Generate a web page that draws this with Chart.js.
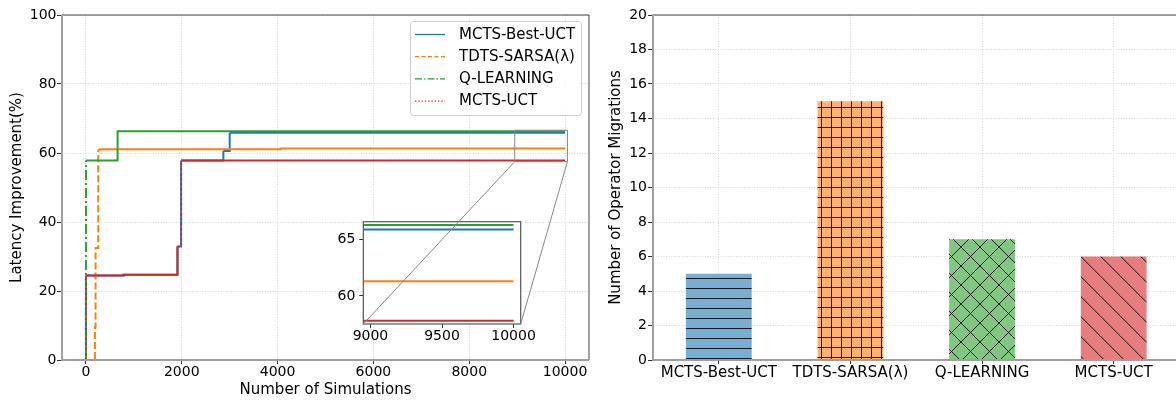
<!DOCTYPE html>
<html>
<head>
<meta charset="utf-8">
<script src="https://cdn.jsdelivr.net/npm/chart.js@4.4.1/dist/chart.umd.min.js"></script>
<style>
html,body{margin:0;padding:0;background:#fff;overflow:hidden;}
body{width:1176px;height:401px;position:relative;}
canvas{position:absolute;top:0;display:block;}
#mainChart,#insetChart{left:0;}
#insetChart{pointer-events:none;}
#barChart{left:600px;}
</style>
</head>
<body>
<canvas id="mainChart" width="600" height="401"></canvas>
<canvas id="insetChart" width="600" height="401"></canvas>
<canvas id="barChart" width="582" height="401"></canvas>
<script>
Chart.defaults.font.family="'DejaVu Sans', sans-serif";
Chart.defaults.color="#000";
Chart.defaults.animation=false;

// series names and colours
const seriesNames=["MCTS-Best-UCT","TDTS-SARSA(λ)","Q-LEARNING","MCTS-UCT"];
const seriesColors=["#1f77b4","#ff7f0e","#2ca02c","#d62728"];

// step points (x = simulations, y = latency improvement %)
const bestUctX=[0,0,785,1910,1986,2868,3000,10000];
const bestUctY=[0,24.5,24.7,32.9,57.8,60.6,65.9,65.9];
const sarsaX=[0,187,200,256,345,4060,10000];
const sarsaY=[0,9.5,32.5,61.0,61.1,61.3,61.3];
const qlearnX=[0,0,660,10000];
const qlearnY=[0,57.8,66.3,66.3];
const uctX=[0,0,785,1910,1986,10000];
const uctY=[0,24.5,24.7,32.9,57.8,57.8];

const xTicks=[0,2000,4000,6000,8000,10000];
const yTicks=[0,20,40,60,80,100];
const insetXTicks=[9000,9500,10000];
const insetYTicks=[60,65];
const insetXRange=[8950,10050];
const insetYRange=[57.5,66.6];

// right chart
const migrations=[5,15,7,6];
const migrationTicks=[0,2,4,6,8,10,12,14,16,18,20];

const lineDashes=[[],[7,3],[10,3,2,3],[2,3]];
const legendDashes=[[],[4,2.5],[7,2,1.5,2],[1.3,2]];

function makePoints(xs,ys){
    return xs.map((x,i)=>({x:x,y:ys[i]}));
}

function lineSets(width){
    const all=[[bestUctX,bestUctY],[sarsaX,sarsaY],[qlearnX,qlearnY],[uctX,uctY]];
    return all.map((d,i)=>({
        label:seriesNames[i],
        data:makePoints(d[0],d[1]),
        borderColor:seriesColors[i],
        borderWidth:width,
        pointRadius:0,
        stepped:true,
        fill:false,
        order:4-i,
        segment:{
            // vertical jumps keep the dash, long flat runs look solid
            borderDash:ctx=>Math.abs(ctx.p1.x-ctx.p0.x)<Math.abs(ctx.p1.y-ctx.p0.y)?lineDashes[i]:undefined
        }
    }));
}

const plain=v=>String(v);
const gridStyle={color:"#cfcfcf",lineWidth:0.8,tickColor:"#333",tickWidth:1};
const dotted={display:false,dash:[1,1.6]};

function spinesPlugin(sides){
    return {
        id:"spines",
        afterDraw(chart){
            const ctx=chart.ctx, a=chart.chartArea;
            ctx.save();
            ctx.setLineDash([]);
            const seg=(x1,y1,x2,y2,c,w)=>{
                ctx.strokeStyle=c;ctx.lineWidth=w;
                ctx.beginPath();ctx.moveTo(x1,y1);ctx.lineTo(x2,y2);ctx.stroke();
            };
            if(sides.top) seg(a.left,a.top,a.right,a.top,sides.top[0],sides.top[1]);
            if(sides.right) seg(a.right,a.top,a.right,a.bottom,sides.right[0],sides.right[1]);
            if(sides.left) seg(a.left,a.top-0.5,a.left,a.bottom+1,sides.left[0],sides.left[1]);
            if(sides.bottom) seg(a.left,a.bottom,a.right,a.bottom,sides.bottom[0],sides.bottom[1]);
            ctx.restore();
        }
    };
}

const legendPlugin={
    id:"boxLegend",
    afterDraw(chart){
        const ctx=chart.ctx;
        ctx.save();
        ctx.beginPath();
        if(ctx.roundRect) ctx.roundRect(410.5,21.5,171,94,3); else ctx.rect(410.5,21.5,171,94);
        ctx.fillStyle="rgba(255,255,255,0.8)";
        ctx.fill();
        ctx.strokeStyle="#d0d0d0";
        ctx.lineWidth=1;
        ctx.stroke();
        ctx.font="15px 'DejaVu Sans'";
        ctx.textBaseline="middle";
        seriesNames.forEach((name,i)=>{
            const y=34.5+i*22.2;
            ctx.strokeStyle=seriesColors[i];
            ctx.lineWidth=1.3;
            ctx.setLineDash(legendDashes[i]);
            ctx.beginPath();ctx.moveTo(415,y);ctx.lineTo(445,y);ctx.stroke();
            ctx.fillStyle="#000";
            ctx.fillText(name,459,y+0.5);
        });
        ctx.restore();
    }
};

const mainChart=new Chart(document.getElementById("mainChart"),{
    type:"line",
    data:{datasets:lineSets(2)},
    options:{
        responsive:false,
        events:[],
        layout:{padding:{top:15,right:11,left:0,bottom:0}},
        plugins:{legend:{display:false},tooltip:{enabled:false}},
        scales:{
            x:{
                type:"linear",min:-500,max:10500,
                afterBuildTicks:s=>{s.ticks=xTicks.map(v=>({value:v}));},
                afterFit:s=>{s.height=41;},
                grid:Object.assign({tickLength:4},gridStyle),
                border:dotted,
                ticks:{font:{size:14},padding:0,maxRotation:0,autoSkip:false,callback:plain},
                title:{display:true,text:"Number of Simulations",font:{size:15},padding:{top:0,bottom:2}}
            },
            y:{
                min:0,max:100,
                afterBuildTicks:s=>{s.ticks=yTicks.map(v=>({value:v}));},
                afterFit:s=>{s.width=62;},
                grid:Object.assign({tickLength:5},gridStyle),
                border:dotted,
                ticks:{font:{size:14},padding:0.5,callback:plain},
                title:{display:true,text:"Latency Improvement(%)",font:{size:15},padding:{top:8.5,bottom:0}}
            }
        }
    },
    plugins:[spinesPlugin({top:["#444",1],right:["#444",1],left:["#a0a0a0",2],bottom:["#a0a0a0",2]}),legendPlugin]
});

const insetPlugin={
    id:"insetExtras",
    beforeDraw(chart){
        const ctx=chart.ctx, a=chart.chartArea;
        ctx.save();
        ctx.fillStyle="#fff";
        ctx.fillRect(a.left,a.top,a.right-a.left,a.bottom-a.top);
        ctx.restore();
    },
    afterDraw(chart){
        const ctx=chart.ctx, a=chart.chartArea;
        const mx=mainChart.scales.x, my=mainChart.scales.y;
        const rx0=mx.getPixelForValue(insetXRange[0]), rx1=mx.getPixelForValue(insetXRange[1]);
        const ry0=my.getPixelForValue(insetYRange[0]), ry1=my.getPixelForValue(insetYRange[1]);
        ctx.save();
        ctx.setLineDash([]);
        ctx.strokeStyle="#555";
        ctx.lineWidth=1.2;
        ctx.strokeRect(a.left,a.top,a.right-a.left,a.bottom-a.top);
        ctx.strokeStyle="#888";
        ctx.lineWidth=1;
        ctx.strokeRect(rx0,ry1,rx1-rx0,ry0-ry1);
        ctx.beginPath();
        ctx.moveTo(rx0,ry0);ctx.lineTo(a.left,a.bottom);
        ctx.moveTo(rx1,ry0);ctx.lineTo(a.right,a.bottom);
        ctx.stroke();
        ctx.restore();
    }
};

const insetChart=new Chart(document.getElementById("insetChart"),{
    type:"line",
    data:{datasets:lineSets(2)},
    options:{
        responsive:false,
        events:[],
        layout:{padding:{top:221.7,right:79.3,left:333.3,bottom:57}},
        plugins:{legend:{display:false},tooltip:{enabled:false}},
        scales:{
            x:{
                type:"linear",min:insetXRange[0],max:insetXRange[1],
                afterBuildTicks:s=>{s.ticks=insetXTicks.map(v=>({value:v}));},
                afterFit:s=>{s.height=20;},
                grid:{drawOnChartArea:false,tickLength:4,tickColor:"#333"},
                border:{display:false},
                ticks:{font:{size:14},padding:0,maxRotation:0,autoSkip:false,callback:plain}
            },
            y:{
                min:insetYRange[0],max:insetYRange[1],
                afterBuildTicks:s=>{s.ticks=insetYTicks.map(v=>({value:v}));},
                afterFit:s=>{s.width=30;},
                grid:{drawOnChartArea:false,tickLength:4,tickColor:"#333"},
                border:{display:false},
                ticks:{font:{size:14},padding:4,callback:plain}
            }
        }
    },
    plugins:[insetPlugin]
});

// hatched bar fills
const barCanvas=document.getElementById("barChart");
const barCtx=barCanvas.getContext("2d");
function hatch(color,size,draw){
    const c=document.createElement("canvas");
    c.width=size;c.height=size;
    const g=c.getContext("2d");
    g.fillStyle=color;
    g.fillRect(0,0,size,size);
    g.strokeStyle="rgba(0,0,0,0.85)";
    g.lineWidth=1;
    g.beginPath();
    draw(g,size);
    g.stroke();
    return barCtx.createPattern(c,"repeat");
}
const barFills=[
    hatch("#79add2",10,(g,s)=>{g.moveTo(0,8.5);g.lineTo(s,8.5);}),
    hatch("#ffb26e",10,(g,s)=>{g.moveTo(0,7.5);g.lineTo(s,7.5);g.moveTo(1.5,0);g.lineTo(1.5,s);}),
    hatch("#81c681",19,(g,s)=>{g.moveTo(-1,-1);g.lineTo(s+1,s+1);g.moveTo(-1,s+1);g.lineTo(s+1,-1);}),
    hatch("#e67d7e",20,(g,s)=>{[-20,0,20].forEach(o=>{g.moveTo(0,15.7+o);g.lineTo(s,35.7+o);});})
];

const barChart=new Chart(barCanvas,{
    type:"bar",
    data:{
        labels:seriesNames,
        datasets:[{
            data:migrations,
            backgroundColor:barFills,
            borderWidth:0,
            barPercentage:0.5,
            categoryPercentage:1
        }]
    },
    options:{
        responsive:false,
        events:[],
        layout:{padding:{top:15,right:2.5,left:0,bottom:0}},
        plugins:{legend:{display:false},tooltip:{enabled:false}},
        scales:{
            x:{
                type:"category",offset:true,
                afterFit:s=>{s.height=41;},
                grid:Object.assign({offset:false,tickLength:4},gridStyle),
                border:dotted,
                ticks:{font:{size:15},padding:0,maxRotation:0,autoSkip:false}
            },
            y:{
                min:0,max:20,
                afterBuildTicks:s=>{s.ticks=migrationTicks.map(v=>({value:v}));},
                afterFit:s=>{s.width=53;},
                grid:Object.assign({tickLength:5},gridStyle),
                border:dotted,
                ticks:{font:{size:14},padding:1,callback:plain},
                title:{display:true,text:"Number of Operator Migrations",font:{size:15},padding:{top:7,bottom:0}}
            }
        }
    },
    plugins:[spinesPlugin({top:["#444",1],left:["#a0a0a0",2],bottom:["#a0a0a0",2]})]
});
</script>
</body>
</html>
